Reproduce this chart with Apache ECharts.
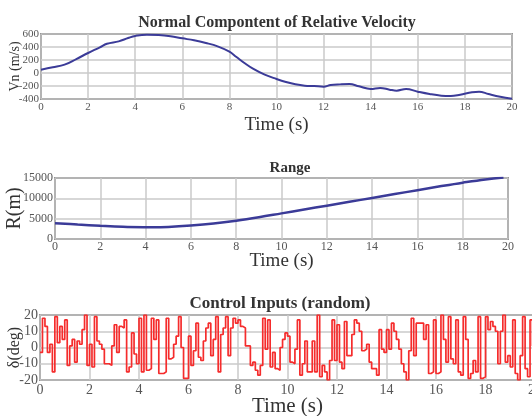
<!DOCTYPE html>
<html><head><meta charset="utf-8">
<script src="https://cdn.jsdelivr.net/npm/echarts@6/dist/echarts.min.js"></script>
<style>html,body{margin:0;padding:0;background:#fff;}#c{width:532px;height:416px;}</style>
</head><body><div id="c"></div>
<script>
// ---- Data ----
var velTime = [0,0.5,1,1.5,2,2.5,2.8,3.3,3.7,4,4.5,5,5.5,6,6.5,7,7.5,8,8.3,8.7,9,9.5,10,10.4,10.8,11.2,11.6,12,12.3,12.7,13.1,13.5,14,14.4,14.8,15.1,15.5,16,16.5,17,17.4,17.8,18.3,18.6,19,19.5,20];
var velValues = [50,87,128,215,308,395,450,487,538,570,590,585,565,533,503,462,410,328,246,138,67,-26,-92,-138,-174,-195,-200,-210,-185,-175,-170,-205,-246,-230,-256,-272,-246,-287,-323,-349,-354,-333,-297,-287,-323,-364,-395];
var rangeTime = [0,1,2,3,4,4.3,5,6,7,8,9,10,11,12,13,14,15,16,17,18,19,19.8];
var rangeValues = [3900,3550,3250,3000,2880,2870,2950,3300,3800,4500,5350,6300,7250,8200,9150,10100,11050,12000,12950,13850,14650,15100];
var ctrlStep = 0.1;
var ctrlValues = [
 -3,18,13,-3,2,-15,19,3,13,5,17,-11,1,5,-9,4,2,11,20,-11,
 2,-12,19,4,2,-1,-10,-10,-11,1,14,-3,13,12,17,-15,-12,9,-4,-10,
 18,-15,20,-14,-13,18,5,17,-16,-16,-15,18,-7,-6,2,7,19,0,-19,-19,
 7,-11,-2,15,-6,-8,4,12,15,-5,5,19,-15,8,12,19,-5,12,18,15,
 17,13,12,1,1,-11,-9,-14,-17,-11,18,-1,17,-12,-3,-13,-14,0,5,9,
 7,-9,-10,-1,17,-17,-10,4,-15,-15,4,-15,20,-18,-11,-15,-20,-8,17,-8,
 14,-9,-13,16,-5,-5,8,17,15,10,-2,-1,2,-9,-13,-13,-17,11,-1,-3,
 11,-1,15,10,5,-1,-10,-15,-20,-2,18,-5,15,15,15,5,14,-16,-15,17,
 -16,-15,20,5,-9,19,-7,-10,17,-15,-17,19,5,-19,-16,-8,-15,19,-19,-18,
 19,11,16,13,10,-10,10,20,-9,-5,-12,17,-16,-20,-5,19,-13,-18,17,1
];
var titles = ['Normal Compontent of Relative Velocity','Range','Control Inputs (random)'];
var xName = 'Time (s)';
var yNames = ['Vn (m/s)','R(m)','\u03b4(deg)'];

// ---- Build ----
function zip(a,b){return a.map(function(v,i){return [v,b[i]];});}
var ctrlData = ctrlValues.map(function(v,i){return [+(i*ctrlStep).toFixed(2), v];});
ctrlData.push([+(ctrlValues.length*ctrlStep).toFixed(2), ctrlValues[ctrlValues.length-1]]);

var FONT = 'Liberation Serif';
var gridLine = {show:true, lineStyle:{color:'#cacaca', width:1.5}};
function plain(v){return String(v);}
function xAx(idx, fs, margin, gap, nfs){
  return {type:'value', gridIndex:idx, min:0, max:20, interval:2,
    axisLine:{show:false}, axisTick:{show:false}, splitLine:gridLine,
    axisLabel:{fontFamily:FONT, fontSize:fs, color:'#555', margin:margin, formatter:plain, showMinLabel:true, showMaxLabel:true},
    name:xName, nameLocation:'middle', nameGap:gap, nameMoveOverlap:false,
    nameTextStyle:{fontFamily:FONT, fontSize:nfs, color:'#333'}};
}
function yAx(idx, min, max, iv, fs, name, gap, nfs){
  return {type:'value', gridIndex:idx, min:min, max:max, interval:iv,
    axisLine:{show:false}, axisTick:{show:false}, splitLine:gridLine,
    axisLabel:{fontFamily:FONT, fontSize:fs, color:'#555', margin:2, formatter:plain, showMinLabel:true, showMaxLabel:true},
    name:name, nameLocation:'middle', nameGap:gap, nameMoveOverlap:false,
    nameTextStyle:{fontFamily:FONT, fontSize:nfs, color:'#333'}};
}
var gridBase = {show:true, borderColor:'#444', borderWidth:1.5, backgroundColor:'transparent', containLabel:false, outerBoundsMode:'none'};
var option = {
  animation:false,
  backgroundColor:'#fff',
  title:[
    {text:titles[0], left:272, top:10, textAlign:'center', textStyle:{fontFamily:FONT, fontWeight:'bold', fontSize:16, color:'#333'}},
    {text:titles[1], left:285, top:156, textAlign:'center', textStyle:{fontFamily:FONT, fontWeight:'bold', fontSize:15, color:'#333'}},
    {text:titles[2], left:275, top:290, textAlign:'center', textStyle:{fontFamily:FONT, fontWeight:'bold', fontSize:17, color:'#333'}}
  ],
  grid:[
    Object.assign({left:41, top:34, width:471, height:65}, gridBase),
    Object.assign({left:55, top:178, width:453, height:61}, gridBase),
    Object.assign({left:40, top:315, width:495, height:65}, gridBase)
  ],
  xAxis:[ xAx(0, 11, 3, 17, 19), xAx(1, 12, 2, 13, 19), xAx(2, 14, 3, 16, 21) ],
  yAxis:[
    yAx(0, -400, 600, 200, 11, yNames[0], 19, 14),
    yAx(1, 0, 15000, 5000, 12, yNames[1], 30, 20),
    yAx(2, -20, 20, 10, 14, yNames[2], 17, 16)
  ],
  series:[
    {type:'line', xAxisIndex:0, yAxisIndex:0, data:zip(velTime, velValues), smooth:0.4, showSymbol:false,
      lineStyle:{color:'#3b3b98', width:2}},
    {type:'line', xAxisIndex:1, yAxisIndex:1, data:zip(rangeTime, rangeValues), smooth:0.4, showSymbol:false,
      lineStyle:{color:'#3b3b98', width:2.5}},
    {type:'line', xAxisIndex:2, yAxisIndex:2, data:ctrlData, step:'end', showSymbol:false,
      lineStyle:{color:'#f52c2c', width:1.7}}
  ]
};
var chart = echarts.init(document.getElementById('c'), null, {renderer:'canvas'});
chart.setOption(option);
</script></body></html>
